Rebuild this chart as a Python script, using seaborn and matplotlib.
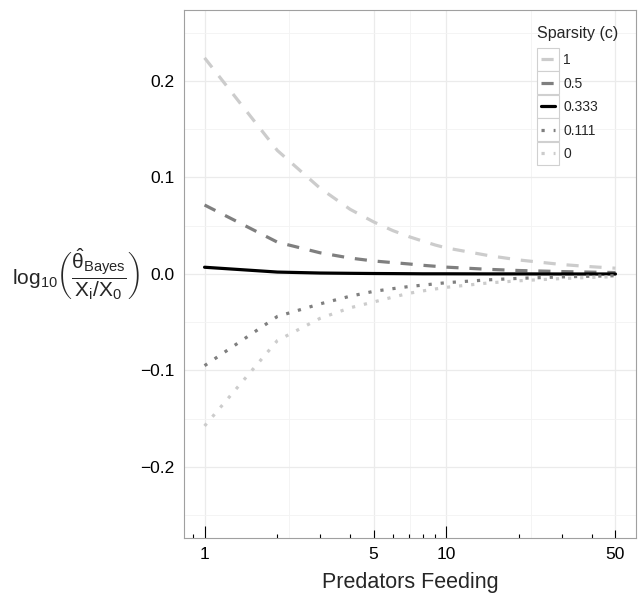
import numpy as np
import pandas as pd
import seaborn as sns
import matplotlib.pyplot as plt
from matplotlib.patches import Rectangle
from matplotlib.legend_handler import HandlerLine2D

# Data
predators = [1, 2, 3, 4, 5, 6, 7, 8, 9, 10, 15, 20, 30, 40, 50]
sparsity_labels = ['1', '0.5', '0.333', '0.111', '0']
c_1 = [0.224, 0.128, 0.089, 0.067, 0.054, 0.045, 0.0387, 0.034, 0.030, 0.027,
       0.019, 0.0145, 0.0098, 0.0075, 0.006]
c_05 = [0.0715, 0.033, 0.022, 0.0165, 0.0135, 0.0118, 0.0104, 0.0090, 0.0080,
        0.0071, 0.0048, 0.0036, 0.0025, 0.0019, 0.0015]
c_0333 = [0.007, 0.002, 0.001, 0.0007, 0.0005, 0.0004, 0.0003, 0.0002, 0.0002,
          0.0002, 0.0001, 0.0001, 0.0, 0.0, 0.0]
c_0111 = [-0.095, -0.044, -0.031, -0.023, -0.018, -0.0152, -0.013, -0.0115,
          -0.0102, -0.009, -0.006, -0.0045, -0.003, -0.0023, -0.0018]
c_0 = [-0.1575, -0.069, -0.046, -0.035, -0.029, -0.024, -0.020, -0.0175,
       -0.0155, -0.0138, -0.0092, -0.007, -0.0047, -0.0035, -0.0028]

x_ticks = [1, 5, 10, 50]
y_ticks = [-0.2, -0.1, 0.0, 0.1, 0.2]
y_ticklabels = ['\u22120.2', '\u22120.1', '0.0', '0.1', '0.2']

series = [c_1, c_05, c_0333, c_0111, c_0]
colors = ['#CCCCCC', '#7F7F7F', '#000000', '#7F7F7F', '#CCCCCC']
styles = [(0, (3.8, 3.4)), (0, (3.8, 3.4)), '-', (0, (1, 2.8)), (0, (1, 2.8))]

df = pd.DataFrame({
    'Predators': predators * len(series),
    'value': np.concatenate(series),
    'c': np.repeat(sparsity_labels, len(predators)),
})

sns.set_style('white')
plt.rcParams['font.family'] = ['Liberation Sans', 'DejaVu Sans']
plt.rcParams['mathtext.fontset'] = 'custom'
plt.rcParams['mathtext.rm'] = 'Liberation Sans'
plt.rcParams['mathtext.it'] = 'Liberation Sans'
plt.rcParams['mathtext.bf'] = 'Liberation Sans:bold'

fig = plt.figure(figsize=(6.4, 6.01), dpi=100)
ax = fig.add_axes([0.2875, 0.1048, 0.7063, 0.8786])

for lab, col, ls in zip(sparsity_labels, colors, styles):
    sub = df[df['c'] == lab]
    sns.lineplot(data=sub, x='Predators', y='value', color=col, linestyle=ls,
                 linewidth=2.3, label=lab, ax=ax, legend=False)

ax.set_xscale('log')
ax.set_xlim(10 ** -0.085, 10 ** 1.784)
ax.set_ylim(-0.2736, 0.2736)

# grid
ax.set_xticks(x_ticks)
ax.set_xticklabels([str(t) for t in x_ticks])
ax.set_xticks([10 ** 0.349, 10 ** 0.849, 10 ** 1.349], minor=True)
ax.set_yticks(y_ticks)
ax.set_yticklabels(y_ticklabels)
ax.set_yticks([-0.25, -0.15, -0.05, 0.05, 0.15, 0.25], minor=True)
ax.grid(which='major', color='#EBEBEB', lw=0.9)
ax.grid(which='minor', color='#F3F3F3', lw=0.6)
ax.set_axisbelow(True)
ax.tick_params(axis='both', which='major', direction='out', length=2.7,
               width=0.8, color='#333333', labelsize=12.5, labelcolor='black', pad=4)
ax.tick_params(axis='both', which='minor', length=0)

for s in ax.spines.values():
    s.set_color('#A0A0A0')
    s.set_linewidth(0.8)

# log ticks along the bottom
trans = ax.get_xaxis_transform()
short_t = [0.9, 2, 3, 4, 6, 7, 8, 9, 20, 30, 40]
mid_t = [5, 50]
long_t = [1, 10]
ax.vlines(short_t, 0, 0.0075, transform=trans, color='black', lw=0.8, clip_on=False)
ax.vlines(mid_t, 0, 0.015, transform=trans, color='black', lw=0.8, clip_on=False)
ax.vlines(long_t, 0, 0.0224, transform=trans, color='black', lw=0.8, clip_on=False)

ax.set_xlabel('Predators Feeding', fontsize=15.5, labelpad=7)
ax.set_ylabel(r'$\mathrm{log}_{10}\left(\dfrac{\hat{\theta}_{\mathrm{Bayes}}}{X_i/X_0}\right)$',
              fontsize=15, rotation=0, ha='center', va='center')
ax.yaxis.set_label_coords(-0.239, 0.5)

KEY_W = 15.8   # points
KEY_H = 16.6


class BoxedLine(HandlerLine2D):
    def create_artists(self, legend, orig_handle, xdescent, ydescent,
                       width, height, fontsize, trans):
        yc = (height - ydescent) / 2
        rect = Rectangle((-xdescent, yc - KEY_H / 2), width, KEY_H, facecolor='white',
                         edgecolor='#D0D0D0', lw=0.8, transform=trans)
        arts = super().create_artists(legend, orig_handle, xdescent, ydescent,
                                      width, height, fontsize, trans)
        return [rect] + arts


handles, labels = ax.get_legend_handles_labels()
leg = ax.legend(handles, labels, title='Sparsity (c)', loc='upper left',
                bbox_to_anchor=(0.781, 0.97), frameon=False, fontsize=10,
                title_fontsize=11.5, handlelength=KEY_W / 10,
                labelspacing=0.68, handletextpad=0.3, borderpad=0, borderaxespad=0,
                handler_map={plt.Line2D: BoxedLine(numpoints=2, marker_pad=0.3)})
leg._legend_box.align = 'left'
leg._legend_box.sep = 9

fig.savefig('out.png', dpi=100)
